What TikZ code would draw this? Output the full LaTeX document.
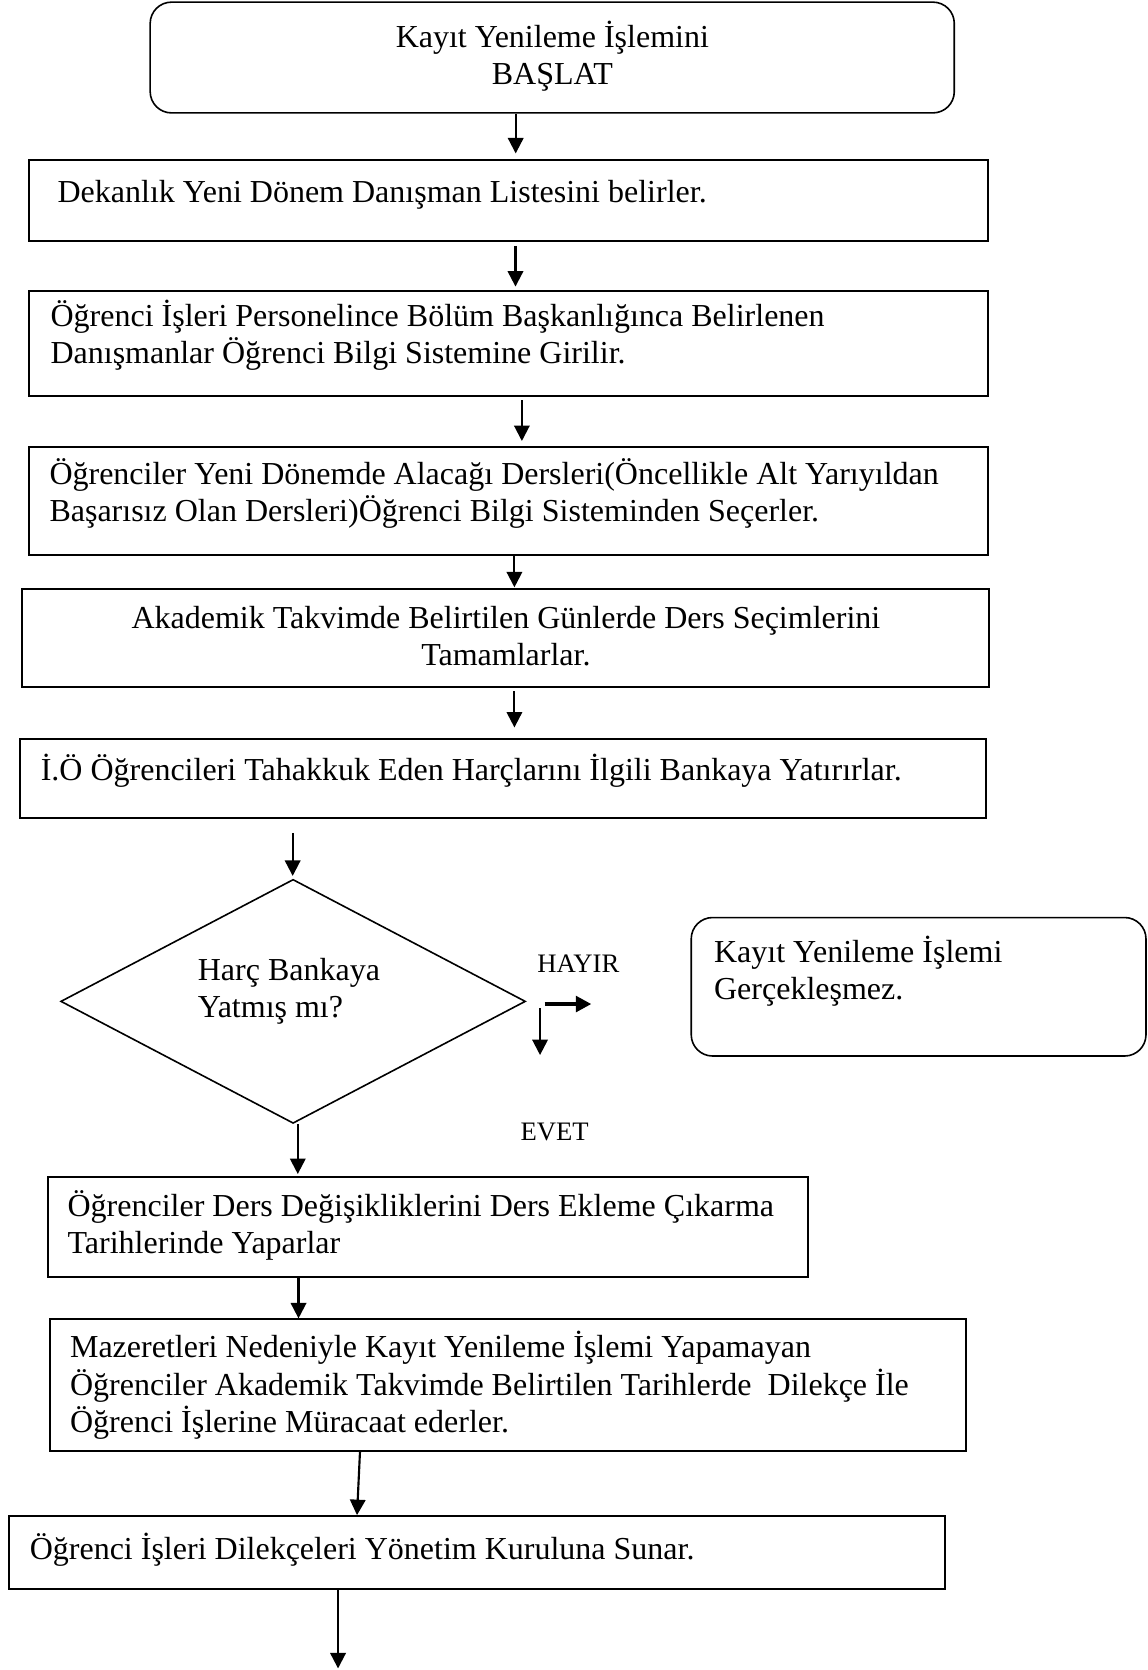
\documentclass[tikz,border=0pt]{standalone}
\usepackage{fontspec}
\setmainfont{Liberation Serif}
\usetikzlibrary{arrows.meta,shapes.geometric,fit}

% multi-line text blocks; the reference point is the baseline of the first line
\newcommand\rows[1]{\vtop{\baselineskip=13.9pt\lineskiplimit=-20pt\halign{##\hfil\cr#1\crcr}}}
\newcommand\crows[1]{\vtop{\baselineskip=13.9pt\lineskiplimit=-20pt\halign{\hfil##\hfil\cr#1\crcr}}}

\begin{document}
\begin{tikzpicture}[x=0.3994pt,y=-0.3994pt,
  box/.style={draw, line width=0.75pt, inner sep=0pt},
  rbox/.style={draw, line width=0.6pt, inner sep=0pt, rounded corners=8pt},
  txt/.style={inner sep=0pt, anchor=base west, font=\fontsize{12pt}{13.9pt}\selectfont},
  ctxt/.style={txt, anchor=base},
  lbl/.style={inner sep=0pt, anchor=base west, font=\fontsize{10pt}{12pt}\selectfont},
  arr/.style={line width=0.8pt, -{Triangle[width=5.8pt,length=5.8pt]}},
  thickarr/.style={line width=1.5pt, -{Triangle[width=5.8pt,length=5.8pt]}},
]
\fill[white] (0,0) rectangle (1077,1568);
\useasboundingbox (0,0) rectangle (1077,1568);

% ---- boxes ----
\node[rbox, fit={(141,2) (896,106)}] (b1) {};
\node[box, fit={(27,150) (928,226)}] (b2) {};
\node[box, fit={(27,273) (928,372)}] (b3) {};
\node[box, fit={(27,420) (928,521)}] (b4) {};
\node[box, fit={(20.6,553.4) (928.6,644.8)}] (b5) {};
\node[box, fit={(18.6,694) (926,767.8)}] (b6) {};
\node[draw, line width=0.6pt, diamond, inner sep=0pt,
      minimum width=174.3pt, minimum height=91.5pt] (d) at (275.2,940.2) {};
\node[rbox, fit={(649,861.5) (1076,991.5)}] (b8) {};
\node[box, fit={(44.6,1105.5) (759,1199)}] (b9) {};
\node[box, fit={(46.7,1238.8) (906.7,1362)}] (b10) {};
\node[box, fit={(8.2,1423.5) (887.5,1492.3)}] (b11) {};

% ---- texts ----
\node[ctxt] (t1) at (518.6,44.5) {\crows{Kayıt Yenileme İşlemini\cr BAŞLAT}};
\node[txt] (t2) at (53.6,189.8) {Dekanlık Yeni Dönem Danışman Listesini belirler.};
\node[txt] (t3) at (47,306.5) {\rows{Öğrenci İşleri Personelince Bölüm Başkanlığınca Belirlenen\cr Danışmanlar Öğrenci Bilgi Sistemine Girilir.}};
\node[txt] (t4) at (46,455) {\rows{Öğrenciler Yeni Dönemde Alacağı Dersleri(Öncellikle Alt Yarıyıldan\cr Başarısız Olan Dersleri)Öğrenci Bilgi Sisteminden Seçerler.}};
\node[ctxt] (t5) at (475,590) {\crows{Akademik Takvimde Belirtilen Günlerde Ders Seçimlerini\cr Tamamlarlar.}};
\node[txt] (t6) at (37.8,732.8) {İ.Ö Öğrencileri Tahakkuk Eden Harçlarını İlgili Bankaya Yatırırlar.};
\node[txt] (td) at (185.3,920.5) {\rows{Harç Bankaya\cr Yatmış mı?}};
\node[txt] (t8) at (670,904) {\rows{Kayıt Yenileme İşlemi\cr Gerçekleşmez.}};
\node[lbl] (hayir) at (504,913.3) {HAYIR};
\node[lbl] (evet) at (488.3,1070.4) {EVET};
\node[txt] (t9) at (63,1142) {\rows{Öğrenciler Ders Değişikliklerini Ders Ekleme Çıkarma\cr Tarihlerinde Yaparlar}};
\node[txt] (t10) at (65.3,1275) {\rows{Mazeretleri Nedeniyle Kayıt Yenileme İşlemi Yapamayan\cr Öğrenciler Akademik Takvimde Belirtilen Tarihlerde~ Dilekçe İle\cr Öğrenci İşlerine Müracaat ederler.}};
\node[txt] (t11) at (27.5,1464.5) {Öğrenci İşleri Dilekçeleri Yönetim Kuruluna Sunar.};

% ---- connector columns ----
\coordinate (c1) at (484.2,0);
\coordinate (c2) at (484,0);
\coordinate (c3) at (490,0);
\coordinate (c4) at (483,0);
\coordinate (c5) at (483,0);
\coordinate (c6) at (274.8,0);
\coordinate (c7) at (279.6,0);
\coordinate (c8) at (280.3,0);
\coordinate (c9a) at (338,0);
\coordinate (c9b) at (335.2,0);
\coordinate (c10) at (317.4,0);
\coordinate (tail) at (317.4,1566.5);

% ---- connectors ----
\draw[arr, shorten >=2pt] (b1.south -| c1) -- (b2.north -| c1);
\draw[arr, shorten <=1.6pt, shorten >=1.2pt] (b2.south -| c2) -- (b3.north -| c2);
\draw[arr, shorten <=1.2pt, shorten >=2pt] (b3.south -| c3) -- (b4.north -| c3);
\draw[arr, shorten >=0.4pt] (b4.south -| c4) -- (b5.north -| c4);
\draw[arr, shorten <=1.3pt, shorten >=4pt] (b5.south -| c5) -- (b6.north -| c5);
\draw[arr, shorten <=5.3pt, shorten >=1pt] (b6.south -| c6) -- (d.north -| c6);
\draw[arr, shorten >=0.9pt] (d.south -| c7) -- (b9.north -| c7);
\draw[arr] (b9.south -| c8) -- (b10.north -| c8);
\draw[arr] (b10.south -| c9a) -- (b11.north -| c9b);
\draw[arr] (b11.south -| c10) -- (tail);

% answer arrows beside the decision
\draw[thickarr] ([shift={(17.3,2.5)}]d.east) -- ++(43.8,0);
\draw[arr] ([shift={(12.9,6.6)}]d.east) -- ++(0,43.8);
\end{tikzpicture}
\end{document}
